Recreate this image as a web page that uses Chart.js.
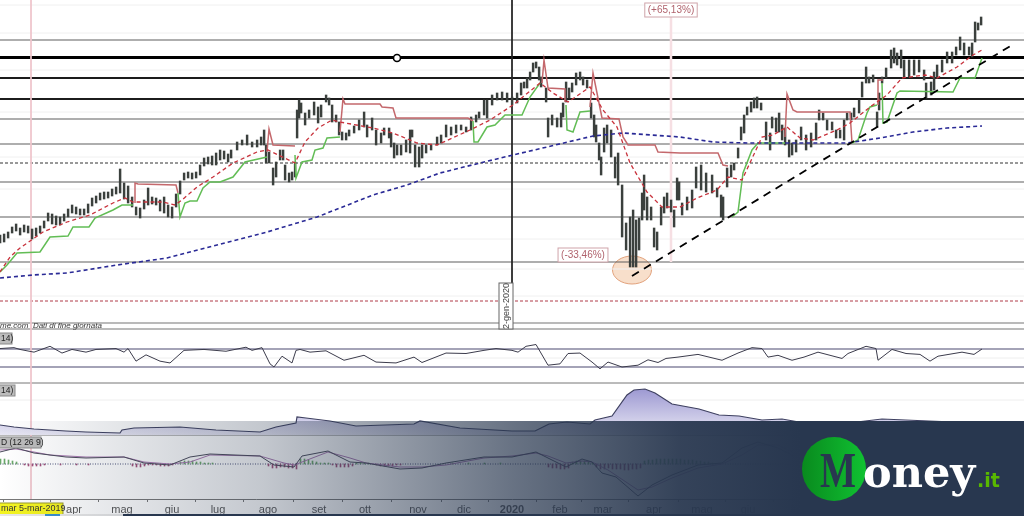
<!DOCTYPE html>
<html>
<head>
<meta charset="utf-8">
<title>Money.it</title>
<style>
html,body{margin:0;padding:0;background:#fff;overflow:hidden}
canvas{display:block}
</style>
<script src="https://cdn.jsdelivr.net/npm/chart.js@4/dist/chart.umd.min.js"></script>
</head>
<body>
<canvas id="myChart" width="1024" height="516"></canvas>
<script>
// x unit = session number, y unit = price index (no scale printed on the picture)
const barSessions = [0.5,2.5,4.5,6.5,8.5,10.5,12.5,14.5,16.5,18.5,20.5,22.5,24.5,26.5,28.5,30.5,32.5,34.5,36.5,38.5,40.5,42.5,44.5,46.5,48.5,50.5,52.5,54.5,56.5,58.5,60.5,62.5,64.5,66.5,68.5,70.5,72.5,74.5,76.5,78.5,80.5,82.5,84.5,86.5,88.5,90.5,92.5,94.5,96.5,98.5,100.5,102.5,104.5,106.5,108.5,110.5,112.5,114.5,116,119,121.5,124,126.5,129,131,132.5,133.5,135,137,138.5,140.5,142,143,145,146.5,148,149,150,151,153,155,157.5,159.5,161,163.5,165,166.5,168.5,170,171.5,173.5,175,177.5,180,182.5,184,186.5,188.5,191,192.5,195,196,197.5,199,201,203.5,205.5,206.5,208,210,211.5,213.5,216,219,221,223.5,226,228.5,231,233.5,236,238.5,240,242.5,244,246.5,249,251.5,254,256.5,259,261,262.5,264,265.5,267,268.5,270,271,273.5,274.5,276.5,279,281,282,283.5,285,286.5,288.5,290.5,292,294,296,297.5,298.5,300,301,302.5,304,306,308,309.5,311.5,313.5,315.5,317,318.5,320,321.5,322.5,324,326,327.5,329,331,332.5,334,336,337.5,339,340,341.5,344,346.5,348.5,351,353.5,356.5,359,361,362,364,366,367.5,369.5,371,372.5,374,376,377.5,379,381,383.5,385.5,386.5,388.5,390,391.5,393,395,396.5,398.5,401,403.5,406,408.5,410,412,414,416.5,418.5,420.5,422.5,424,426,427.5,430,431.5,433.5,435,437,439,440,441.5,443.5,446,447.5,449,451,452.5,455,457.5,460,462.5,463.5,466,467.5,469,471.5,474,476.5,478.5,480.5,482.5,485,486.5,488,489.5,491];
const barHighs = [105,106,108,113,116,112,115,114,111,112,114,119,127,126,124,123,126,131,135,133,131,131,136,142,144,147,148,148,151,153,171,157,154,143,133,132,140,152,143,142,140,143,135,133,146,159,167,168,167,168,175,182,183,184,187,190,189,186,190,198,200,205,198,200,203,210,195,188,172,178,190,190,175,167,168,178,230,240,237,227,230,238,233,235,245,242,235,225,218,208,207,210,214,220,228,215,222,210,207,212,212,207,197,195,195,200,210,210,195,193,195,195,195,203,205,215,213,215,215,213,223,225,228,240,240,245,247,248,247,243,247,257,258,262,268,277,278,273,263,252,222,225,222,227,237,258,252,257,267,268,263,260,237,225,215,197,183,212,215,210,183,187,155,117,123,130,120,122,147,165,143,133,112,108,133,143,147,140,130,162,158,137,143,150,173,175,167,165,152,145,143,172,175,177,192,213,225,233,238,242,243,237,218,207,223,222,227,215,212,200,197,200,213,205,207,217,230,227,220,218,210,210,220,227,227,232,240,258,273,263,265,228,247,263,272,290,292,287,290,280,280,280,280,270,257,258,268,275,280,288,288,293,303,297,293,297,318,317,323];
const barLows = [97,98,102,107,109,105,108,107,101,104,107,112,119,116,115,115,119,123,127,126,125,125,127,134,137,140,141,142,144,146,147,141,137,133,125,122,131,135,136,135,129,127,123,122,133,146,160,162,161,162,165,174,176,175,175,180,181,178,182,190,195,195,193,193,195,195,177,177,155,163,180,180,160,158,160,163,202,222,227,215,222,225,217,223,238,235,218,218,205,200,200,204,207,210,213,203,210,195,197,205,202,193,182,185,185,188,187,203,173,173,182,187,190,195,197,203,205,207,210,208,210,218,222,225,222,235,240,240,238,235,237,245,252,252,260,268,272,260,253,238,203,215,213,213,223,238,242,248,255,260,255,252,222,203,198,180,165,188,197,183,162,155,103,90,73,73,73,90,120,130,120,120,93,90,115,127,132,128,113,140,140,125,130,132,152,150,148,147,143,123,120,153,163,170,182,200,207,225,228,232,232,230,200,190,212,208,208,200,195,183,185,188,200,190,193,200,220,220,210,210,202,202,200,220,220,223,227,243,257,257,258,213,230,257,262,272,277,275,272,263,263,265,268,260,242,245,250,263,268,277,277,285,290,285,285,283,298,310,315];

const greenSessions = [0,3.5,8.5,20,25,34,36.5,44.5,47.5,56.5,61,66.5,67,89,90,92.5,95,98.5,101.5,105,110,116.5,122.5,133.5,134,147.5,148,151,156,157.5,161.5,163.5,170,170.5,236.5,237,239,243.5,247.5,252.5,261,265,270,271,283,283.5,286.5,290,295,295.5,366,369,371.5,376,379,392.5,393,426,429,433.5,435,438.5,439,441,441.5,443.5,448.5,450,476.5,480,487.5,491];
const greenStop = [68,75,87,88,103,104,113,113,122,130,135,135,null,147,123,137,139,139,152,158,158,163,178,183,null,185,162,178,180,190,192,202,203,null,219,198,198,213,215,225,225,243,257,null,235,210,208,228,229,null,123,128,167,190,197,197,null,197,200,227,233,235,null,257,217,218,247,249,248,262,262,282];
const redSessions = [67.5,67.5,69,88,89,89.5,133.5,134.5,136.5,147.5,148,170,171.5,172.5,190,191,196.5,198,234,236.5,237,271,272,274,282.5,282.5,283,295,296.5,300,301,309.5,311.5,314,327.5,329,340,359,361.5,364,365,392.5,393.5,396.5,398.5,425,426,426.5,439,439,441.5];
const redStop = [137,157,156,155,147,null,188,211,195,194,null,208,241,236,236,233,232,222,222,219,null,257,280,252,251,238,null,233,267,232,222,221,203,195,195,188,187,187,175,174,null,203,246,230,228,228,197,null,235,260,260];

const ma20Sessions = [0,5,10,21.5,33.5,45,56.5,62.5,66.5,71.5,81.5,87.5,91,98.5,106.5,116.5,128.5,134,147.5,152.5,159,166,170,186.5,196.5,208.5,218.5,235,245,256.5,270,276.5,284,295,301.5,308.5,315,323.5,331,340,348.5,358.5,364,371,381,386.5,393.5,400,406.5,418.5,425,435,443.5,451,462.5,468.5,478.5,486.5,491];
const ma20 = [68,83,92,108,118,125,137,142,138,138,138,135,140,153,163,177,188,190,177,198,212,220,218,212,207,197,195,210,220,235,257,247,238,253,230,213,177,148,133,133,142,150,163,160,203,205,213,202,200,210,217,233,245,262,265,262,273,285,290];
const ma200Sessions = [0,16.5,33.5,58.5,83.5,108.5,133.5,158.5,170,186.5,203.5,220,240,256.5,273.5,296.5,311.5,340,356.5,373.5,398.5,423.5,440,456.5,473.5,491];
const ma200 = [62,65,67,75,82,95,108,123,132,145,155,167,177,185,193,204,207,203,198,197,197,197,202,208,212,214];

const trendSessions = [316,506];
const trendValues = [64,295];

const heavyLevels = [282.5];
const strongLevels = [262,241];
const thinLevels = [300,221,196,158,123,78];
const dashedLevel = [177];
const redDashedLevel = [39];
const frameLevels = [17,11];
const faintLevels = [335,307,270,228,183,151,101,71,44];

const rsiSessions = [0,7,10,17,25,31,36,43,48,58,62,64,68,73,80,85,92,102,113,123,126,131,135,137,141,146,148,150,155,163,172,182,188,198,207,211,223,233,242,248,256,259,263,268,274,280,284,290,296,300,304,311,319,324,329,333,339,349,361,369,376,381,384,389,396,402,409,421,424,433,438,439,446,453,460,465,469,481,487,491];
const rsi = [71,73,69,63,76,61,69,63,69,71,63,71,43,57,43,39,67,69,65,74,67,73,37,30,54,39,67,69,63,66,45,56,41,39,52,40,61,60,67,71,67,63,76,80,34,37,60,61,41,26,41,30,34,46,40,49,52,58,45,61,73,71,52,56,45,52,63,49,60,76,71,45,69,60,58,43,54,63,58,70];
const rsiLevels = [70,30];
const rsiFaint = [50];

const adxSessions = [0,7,17,33,43,60,61,67,90,108,130,138,148,148.5,153,165,178,207,210,230,256,267.5,274.5,283.5,295,297.5,306,313.5,317,322.5,327.5,336,349.5,359.5,369.5,381,391,399.5,420,441,464.5,489.5];
const adx = [10,8,6,4,3,2,5,7,8,5,3,8,12,18,17,14,9,11,14,7,4,4,11,13,11,15,19,40,45,46,42,31,26,20,19,15,16,13,11,16,14,12];
const adxLevels = [52,0];
const adxFaint = [35];

const macdSessions = [0,8,17,33,43,62,72,85,95,105,130,137,147,151,164,175,183,200,211,223,242,256,268,274,283,291,296,301,308,319,326,336,349,361,371,379,389,399];
const macdLine = [12,16,11,7,6,7,1,-1,7,10,8,-1,-3,8,13,2,1,-5,-4,1,7,7,12,6,-3,5,2,-9,-13,-32,-21,-11,-1,1,16,22,16,6];
const signalSessions = [0,8,17,25,43,62,72,85,95,105,130,142,147,151,164,175,183,200,211,223,242,256,268,274,283,291,296,304,313,319,326,336,349,361,371,379,389,399];
const signalLine = [14,15,12,9,7,7,2,0,2,9,8,1,-1,2,12,6,1,-3,-3,-1,6,8,11,8,1,3,2,-6,-18,-26,-23,-14,-4,0,9,19,19,9];
const histSessions = [0,2,4,6,8,12,14,16,18,20,22,30,38,44,66,68,70,72,74,76,78,80,82,84,86,90,92,94,96,98,100,102,104,106,134,136,138,140,142,144,146,148,150,152,154,156,158,160,162,164,166,168,170,172,174,176,178,180,182,184,188,190,192,194,196,198,200,226,234,242,250,274,276,278,280,282,284,286,288,290,292,294,296,298,300,302,304,306,308,310,312,314,316,318,320,322,324,326,328,330,332,334,336,338,340,342,344,346,348,350,352,354,356];
const histogram = [5,5,4,3,2,-1,-2,-2,-2,-2,-1,-1,-1,-1,-2,-3,-3,-2,-1,-1,-1,-2,-2,-2,-1,2,3,3,3,2,2,1,1,1,-2,-4,-4,-3,-3,-4,-4,-5,5,5,4,3,2,1,1,1,-1,-3,-3,-3,-3,-2,1,1,1,1,-1,-2,-2,-2,-2,-1,-1,1,1,1,1,-3,-4,-4,-5,-5,-4,2,3,3,3,2,1,-3,-5,-5,-4,-5,-5,-5,-6,-6,-5,-5,-4,3,4,4,5,5,5,5,5,5,5,4,4,4,3,3,2,2,1];

const monthSessions = [13.5,37,61,86,109,134,159.5,182.5,209,232,256,280,301.5,327,351,374,399,424.5,448.5];
const monthLabels = ['','apr','mag','giu','lug','ago','set','ott','nov','dic','2020','feb','mar','apr','mag','giu','lug','ago','set'];

const markerSession = [198.5];
const markerValue = [282];

const BOTTOM = 499;
// min/max of a scale so that two values land on the two given pixel rows
function paneRange(v1, y1, v2, y2){
    const perPx = (v1 - v2) / (y2 - y1);
    return {min: v1 - (BOTTOM - y1) * perPx, max: v1 + y1 * perPx};
}
const pts = (xs, ys) => xs.map((x, i) => ({x: x, y: ys[i]}));
const level = (v, axis, style) => Object.assign({
    type: 'line', yAxisID: axis, order: 10, borderWidth: 1, borderColor: '#666',
    data: [{x: 0, y: v}, {x: 512, y: v}]
}, style);

const datasets = [];
faintLevels.forEach(v => datasets.push(level(v, 'price', {borderColor: '#f0f0f0', order: 12})));
rsiFaint.forEach(v => datasets.push(level(v, 'yRsi', {borderColor: '#eeeeee', order: 12})));
adxFaint.forEach(v => datasets.push(level(v, 'adx', {borderColor: '#eeeeee', order: 12})));
thinLevels.forEach(v => datasets.push(level(v, 'price', {borderColor: '#5f5f5f', borderWidth: 1.2})));
strongLevels.forEach(v => datasets.push(level(v, 'price', {borderColor: '#1c1c1c', borderWidth: 1.8})));
heavyLevels.forEach(v => datasets.push(level(v, 'price', {borderColor: '#000', borderWidth: 3})));
dashedLevel.forEach(v => datasets.push(level(v, 'price', {borderColor: '#333', borderDash: [3, 2]})));
redDashedLevel.forEach(v => datasets.push(level(v, 'price', {borderColor: '#b03a48', borderDash: [3, 2]})));
frameLevels.forEach(v => datasets.push(level(v, 'price', {borderColor: '#777', borderWidth: 1.2})));
rsiLevels.forEach(v => datasets.push(level(v, 'yRsi', {borderColor: '#86849f', borderWidth: 1.4})));
adxLevels.forEach(v => datasets.push(level(v, 'adx', {borderColor: '#777', borderWidth: 1})));
datasets.push(level(0, 'macd', {borderColor: '#4a5078', borderDash: [1, 1.5]}));

// month cursor lines
const cursor = (s, a, b, color, w) => ({type: 'line', yAxisID: 'price', order: 9, borderColor: color, borderWidth: w,
    data: [{x: s, y: a}, {x: s, y: b}]});
datasets.push(cursor(15.5, 340, -159, '#eec4cb', 1));
datasets.push(cursor(335.5, 323, 78, '#f6dfe3', 2.5));
datasets.push(cursor(256, 340, 11, '#222', 1));

datasets.push({type: 'bar', yAxisID: 'price', order: 5, barThickness: 1.8, backgroundColor: '#3b403d',
    data: barSessions.map((s, i) => ({x: s, y: [barLows[i], barHighs[i]]}))});
datasets.push({type: 'bar', yAxisID: 'macd', order: 6, barThickness: 1,
    backgroundColor: c => (c.raw && c.raw.y > 0) ? '#6aa86a' : '#a0507a',
    data: pts(histSessions, histogram)});

datasets.push({type: 'line', yAxisID: 'price', order: 3, borderColor: '#62bd55', borderWidth: 1.5, data: pts(greenSessions, greenStop)});
datasets.push({type: 'line', yAxisID: 'price', order: 3, borderColor: '#c4686c', borderWidth: 1.5, data: pts(redSessions, redStop)});
datasets.push({type: 'line', yAxisID: 'price', order: 2, borderColor: '#c8323c', borderWidth: 1.3, borderDash: [4, 3], data: pts(ma20Sessions, ma20)});
datasets.push({type: 'line', yAxisID: 'price', order: 2, borderColor: '#2a2a96', borderWidth: 1.6, borderDash: [4, 3], data: pts(ma200Sessions, ma200)});
datasets.push({type: 'line', yAxisID: 'price', order: 1, borderColor: '#000', borderWidth: 1.8, borderDash: [8, 6], data: pts(trendSessions, trendValues)});
datasets.push({type: 'line', yAxisID: 'price', order: 0, showLine: false, pointRadius: 3.5, pointBorderWidth: 1.6,
    pointBackgroundColor: '#fff', pointBorderColor: '#000', data: pts(markerSession, markerValue)});

datasets.push({type: 'line', yAxisID: 'yRsi', order: 4, borderColor: '#3c3c4c', borderWidth: 1, data: pts(rsiSessions, rsi)});
datasets.push({type: 'line', yAxisID: 'adx', order: 4, borderColor: '#3e4060', borderWidth: 1.2, fill: {value: 0},
    backgroundColor: c => {
        const s = c.chart.scales.adx;
        const top = s ? s.getPixelForValue(46) : NaN, bottom = s ? s.getPixelForValue(0) : NaN;
        if(!Number.isFinite(top) || !Number.isFinite(bottom)) return '#cfcde8';
        const g = c.chart.ctx.createLinearGradient(0, top, 0, bottom);
        g.addColorStop(0, '#9d99d2');
        g.addColorStop(1, '#e8e7f4');
        return g;
    },
    data: pts(adxSessions, adx)});
datasets.push({type: 'line', yAxisID: 'macd', order: 4, borderColor: '#4a4a5a', borderWidth: 1, data: pts(macdSessions, macdLine)});
datasets.push({type: 'line', yAxisID: 'macd', order: 4, borderColor: '#a878b0', borderWidth: 1, data: pts(signalSessions, signalLine)});

function box(ctx, text, cx, cy, font, color, border, fill){
    ctx.font = font;
    ctx.textAlign = 'center';
    ctx.textBaseline = 'middle';
    const w = ctx.measureText(text).width + 6;
    ctx.fillStyle = fill;
    ctx.fillRect(cx - w / 2, cy - 7, w, 14);
    ctx.strokeStyle = border;
    ctx.lineWidth = 1;
    ctx.strokeRect(cx - w / 2, cy - 7, w, 14);
    ctx.fillStyle = color;
    ctx.fillText(text, cx, cy + 0.5);
}

const decorations = {
    id: 'decorations',
    beforeDraw(chart){
        const ctx = chart.ctx;
        ctx.save();
        ctx.fillStyle = '#fff';
        ctx.fillRect(0, 0, 1024, 516);
        ctx.restore();
    },
    beforeDatasetsDraw(chart){
        // circle round the low
        const ctx = chart.ctx, x = chart.scales.x, p = chart.scales.price;
        ctx.save();
        ctx.beginPath();
        ctx.ellipse(x.getPixelForValue(316), p.getPixelForValue(70), 19.5, 14, 0, 0, Math.PI * 2);
        ctx.fillStyle = 'rgba(243,196,160,0.55)';
        ctx.fill();
        ctx.strokeStyle = '#e2a27c';
        ctx.lineWidth = 1;
        ctx.stroke();
        ctx.restore();
    },
    afterDatasetsDraw(chart){
        const ctx = chart.ctx, x = chart.scales.x, p = chart.scales.price;
        ctx.save();
        box(ctx, '(+65,13%)', x.getPixelForValue(335.5), p.getPixelForValue(330), '10px "Liberation Sans"', '#b0626c', '#cfa4aa', '#fff');
        box(ctx, '(-33,46%)', x.getPixelForValue(291.5), p.getPixelForValue(85), '10px "Liberation Sans"', '#b0626c', '#cfa4aa', '#fff');

        // rotated date of the cursor
        ctx.translate(x.getPixelForValue(253), p.getPixelForValue(34));
        ctx.rotate(-Math.PI / 2);
        ctx.fillStyle = '#fff';
        ctx.fillRect(-23, -7, 46, 14);
        ctx.strokeStyle = '#666';
        ctx.strokeRect(-23, -7, 46, 14);
        ctx.fillStyle = '#444';
        ctx.font = '9px "Liberation Sans"';
        ctx.textAlign = 'center';
        ctx.textBaseline = 'middle';
        ctx.fillText('2-gen-2020', 0, 0.5);
        ctx.restore();

        ctx.save();
        ctx.font = 'italic 8px "Liberation Sans"';
        ctx.fillStyle = '#333';
        ctx.textAlign = 'left';
        ctx.textBaseline = 'middle';
        ctx.fillText('me.com  Dati di fine giornata', 0, 325.5);
        ctx.restore();

        // panel tags, cut by the left edge in the picture
        [['14)', 333, 12], ['14)', 385, 15], ['D (12 26 9)', 437, 41]].forEach(t => {
            ctx.save();
            ctx.fillStyle = '#bcbcbc';
            ctx.fillRect(0, t[1], t[2], 11);
            ctx.strokeStyle = '#8a8a8a';
            ctx.strokeRect(-1, t[1], t[2] + 1, 11);
            ctx.fillStyle = '#222';
            ctx.font = '8.5px "Liberation Sans"';
            ctx.textAlign = 'left';
            ctx.textBaseline = 'middle';
            ctx.fillText(t[0], 1, t[1] + 6);
            ctx.restore();
        });
    },
    afterDraw(chart){
        const ctx = chart.ctx;
        ctx.save();
        // yellow date tag
        ctx.fillStyle = '#f4f420';
        ctx.fillRect(0, 503, 63, 11.5);
        ctx.strokeStyle = '#9a9a30';
        ctx.strokeRect(-1, 503, 64, 11.5);
        ctx.fillStyle = '#333';
        ctx.font = '9px "Liberation Sans"';
        ctx.textAlign = 'left';
        ctx.textBaseline = 'middle';
        ctx.fillText('mar 5-mar-2019', 1, 509);

        // bottom strip + banner
        ctx.fillStyle = '#e8e8e8';
        ctx.fillRect(0, 514, 123, 2);
        ctx.fillStyle = '#3a8fd0';
        ctx.fillRect(45, 514, 15, 2);
        ctx.fillStyle = '#28374f';
        ctx.fillRect(123, 514, 901, 2);
        const g = ctx.createLinearGradient(0, 0, 800, 0);
        g.addColorStop(0, 'rgba(40,55,79,0)');
        g.addColorStop(0.33, 'rgba(40,55,79,0.28)');
        g.addColorStop(0.64, 'rgba(40,55,79,0.7)');
        g.addColorStop(0.85, 'rgba(40,55,79,0.94)');
        g.addColorStop(1, 'rgba(40,55,79,1)');
        ctx.fillStyle = g;
        ctx.fillRect(0, 421, 1024, 95);

        // logo
        const lg = ctx.createLinearGradient(802, 0, 866, 0);
        lg.addColorStop(0, '#098a1e');
        lg.addColorStop(1, '#10c232');
        ctx.fillStyle = lg;
        ctx.beginPath();
        ctx.arc(834, 469, 32, 0, Math.PI * 2);
        ctx.fill();

        ctx.textAlign = 'left';
        ctx.textBaseline = 'alphabetic';
        ctx.save();
        ctx.translate(820, 487);
        ctx.font = 'bold 51px "Liberation Serif"';
        ctx.scale(36 / ctx.measureText('M').width, 1);
        ctx.fillStyle = '#28374f';
        ctx.fillText('M', 0, 0);
        ctx.restore();
        ctx.font = 'bold 43px "DejaVu Serif"';
        ctx.fillStyle = '#fff';
        ctx.fillText('oney', 863, 487);
        ctx.font = 'bold 19px "DejaVu Sans"';
        ctx.fillStyle = '#58b800';
        ctx.fillText('.it', 977, 487);
        ctx.restore();
    }
};

const priceR = paneRange(0, 340, 340, 0);
const rsiR = paneRange(70, 349, 30, 367);
const adxR = paneRange(0, 435, 52, 383);
const macdR = paneRange(0, 464, 29, 435);
const hiddenY = r => ({type: 'linear', axis: 'y', display: false, min: r.min, max: r.max});

new Chart(document.getElementById('myChart'), {
    type: 'line',
    data: {datasets: datasets},
    plugins: [decorations],
    options: {
        responsive: false,
        animation: false,
        devicePixelRatio: 1,
        layout: {padding: 0, autoPadding: false},
        elements: {point: {radius: 0}, line: {tension: 0}},
        plugins: {legend: {display: false}, tooltip: {enabled: false}},
        events: [],
        scales: {
            x: {
                type: 'linear', min: 0, max: 512, offset: false,
                afterBuildTicks: s => { s.ticks = monthSessions.map(v => ({value: v})); },
                afterFit: s => { s.height = 17; },
                grid: {drawOnChartArea: false, tickLength: 3, color: '#777'},
                border: {color: '#777'},
                ticks: {
                    autoSkip: false, maxRotation: 0, padding: 1, color: '#555',
                    font: c => ({family: '"Liberation Sans"', size: 11, weight: c.index === 10 ? 'bold' : 'normal'}),
                    callback: (v, i) => monthLabels[i]
                }
            },
            price: hiddenY(priceR),
            yRsi: hiddenY(rsiR),
            adx: hiddenY(adxR),
            macd: hiddenY(macdR)
        }
    }
});
</script>
</body>
</html>
